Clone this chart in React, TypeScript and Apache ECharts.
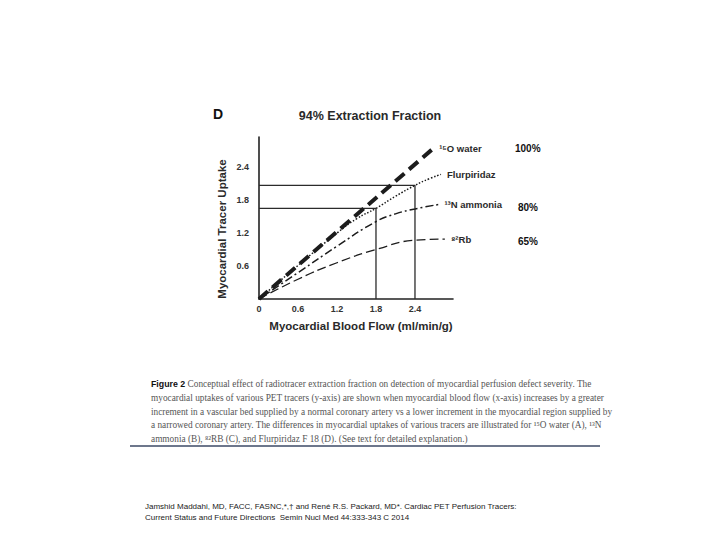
import React, { useEffect, useRef } from "react";
import * as echarts from "echarts";

// ---- data ----
const flowTicks = [0, 0.6, 1.2, 1.8, 2.4];
const uptakeTicks = [0.6, 1.2, 1.8, 2.4];
const tracerNames = ["¹⁵O water", "Flurpiridaz", "¹³N ammonia", "⁸²Rb"];
const extractionLabels = ["100%", "80%", "65%"];
const waterPoints = [
  [0, 0],
  [2.68, 2.74],
];
const flurpiridazPoints = [
  [0, 0],
  [0.6, 0.61],
  [1.2, 1.2],
  [1.5, 1.46],
  [1.8, 1.65],
  [2.1, 1.87],
  [2.4, 2.07],
  [2.62, 2.19],
  [2.8, 2.27],
];
const ammoniaPoints = [
  [0, 0],
  [0.6, 0.48],
  [1.2, 0.96],
  [1.8, 1.41],
  [2.1, 1.55],
  [2.4, 1.64],
  [2.76, 1.72],
];
const rubidiumPoints = [
  [0, 0],
  [0.6, 0.36],
  [1.2, 0.66],
  [1.8, 0.9],
  [2.4, 1.07],
  [2.86, 1.09],
];
const refFlows = [1.8, 2.4];
const refUptakes = [1.65, 2.07];

const captionLines = [
  "{b|Figure 2} Conceptual effect of radiotracer extraction fraction on detection of myocardial perfusion defect severity. The",
  "myocardial uptakes of various PET tracers (y-axis) are shown when myocardial blood flow (x-axis) increases by a greater",
  "increment in a vascular bed supplied by a normal coronary artery vs a lower increment in the myocardial region supplied by",
  "a narrowed coronary artery. The differences in myocardial uptakes of various tracers are illustrated for ¹⁵O water (A), ¹³N",
  "ammonia (B), ⁸²RB (C), and Flurpiridaz F 18 (D). (See text for detailed explanation.)",
];
const footerLines = [
  "Jamshid Maddahi, MD, FACC, FASNC,*,† and René R.S. Packard, MD*. Cardiac PET Perfusion Tracers:",
  "Current Status and Future Directions  Semin Nucl Med 44:333-343 C 2014",
];

const SANS = "'Liberation Sans', Arial, sans-serif";
const SERIF = "'Liberation Serif', 'Times New Roman', serif";
const INK = "#1c1c1c";

export default function App() {
  const ref = useRef<HTMLDivElement>(null);

  useEffect(() => {
    if (!ref.current) return;
    const chart = echarts.init(ref.current, undefined, { renderer: "svg" });

    const endLabel = (name: string) => ({
      show: true,
      formatter: name,
      color: "#2a2a2a",
      fontFamily: SANS,
      fontWeight: "bold" as const,
      fontSize: 9.5,
      distance: 6,
    });

    const curve = (
      name: string,
      data: number[][],
      lineType: any,
      width: number
    ) => ({
      type: "line",
      name,
      data,
      smooth: true,
      showSymbol: false,
      symbol: "none",
      lineStyle: { color: INK, width, type: lineType },
      endLabel: endLabel(name),
      labelLayout: { hideOverlap: false },
      z: 3,
    });

    const refSeries = refFlows.map((f, i) => ({
      type: "line",
      name: "ref" + i,
      data: [
        [0, refUptakes[i]],
        [f, refUptakes[i]],
        [f, 0],
      ],
      showSymbol: false,
      symbol: "none",
      lineStyle: { color: "#2b2b2b", width: 1.3, type: "solid" },
      z: 2,
    }));

    const pctY = [148, 207, 241];
    const pctX = [515, 518, 518];

    const graphics: any[] = [
      {
        type: "text",
        left: 213,
        top: 107,
        style: { text: "D", font: `bold 14px ${SANS}`, fill: "#111" },
      },
      {
        type: "text",
        x: 370,
        y: 116,
        style: {
          text: "94% Extraction Fraction",
          font: `bold 12.5px ${SANS}`,
          fill: "#2a2a2a",
          align: "center",
          verticalAlign: "middle",
        },
      },
      {
        type: "text",
        x: 222,
        y: 229,
        rotation: Math.PI / 2,
        style: {
          text: "Myocardial Tracer Uptake",
          font: `bold 11.5px ${SANS}`,
          fill: "#2a2a2a",
          align: "center",
          verticalAlign: "middle",
        },
      },
      {
        type: "text",
        x: 361,
        y: 326,
        style: {
          text: "Myocardial Blood Flow (ml/min/g)",
          font: `bold 11.5px ${SANS}`,
          fill: "#2a2a2a",
          align: "center",
          verticalAlign: "middle",
        },
      },
      ...extractionLabels.map((t, i) => ({
        type: "text",
        x: pctX[i],
        y: pctY[i],
        style: {
          text: t,
          font: `bold 10px ${SANS}`,
          fill: "#111",
          align: "left",
          verticalAlign: "middle",
        },
      })),
      ...captionLines.map((t, i) => ({
        type: "text",
        x: 151,
        y: 384 + i * 13.8,
        style: {
          text: t,
          fontFamily: SERIF,
          fontSize: 9.3,
          fill: "#555",
          align: "left",
          verticalAlign: "middle",
          rich: {
            b: {
              fontFamily: SANS,
              fontWeight: "bold",
              fontSize: 8.8,
              fill: "#111",
            },
          },
        },
      })),
      {
        type: "line",
        shape: { x1: 130, y1: 446, x2: 600, y2: 446 },
        style: { stroke: "#3d4a66", lineWidth: 1.5 },
      },
      ...footerLines.map((t, i) => ({
        type: "text",
        x: 145,
        y: 506 + i * 11,
        style: {
          text: t,
          font: `8px ${SANS}`,
          fill: "#222",
          align: "left",
          verticalAlign: "middle",
        },
      })),
    ];

    chart.setOption({
      animation: false,
      backgroundColor: "#ffffff",
      grid: { left: 259, top: 137, width: 194, height: 162, containLabel: false },
      xAxis: {
        type: "value",
        min: 0,
        max: 2.985,
        splitLine: { show: false },
        axisTick: { show: false },
        axisLine: { show: true, onZero: false, lineStyle: { color: "#222", width: 1.6 } },
        axisLabel: {
          customValues: flowTicks,
          formatter: (v: number) => String(v),
          color: "#333",
          fontFamily: SANS,
          fontWeight: "bold",
          fontSize: 9,
          margin: 5,
        },
      },
      yAxis: {
        type: "value",
        min: 0,
        max: 2.95,
        splitLine: { show: false },
        axisTick: { show: false },
        axisLine: { show: true, onZero: false, lineStyle: { color: "#222", width: 1.6 } },
        axisLabel: {
          customValues: uptakeTicks,
          formatter: (v: number) => String(v),
          color: "#333",
          fontFamily: SANS,
          fontWeight: "bold",
          fontSize: 9,
          margin: 10,
        },
      },
      series: [
        ...refSeries,
        curve(tracerNames[3], rubidiumPoints, [9, 4], 1.3),
        curve(tracerNames[2], ammoniaPoints, [8, 3, 2, 3], 1.5),
        curve(tracerNames[1], flurpiridazPoints, [1.5, 1.8], 1.5),
        curve(tracerNames[0], waterPoints, [12, 6], 4),
      ],
      graphic: graphics,
    });

    return () => chart.dispose();
  }, []);

  return (
    <div
      ref={ref}
      style={{ position: "fixed", left: 0, top: 0, width: 720, height: 540, background: "#fff" }}
    />
  );
}
